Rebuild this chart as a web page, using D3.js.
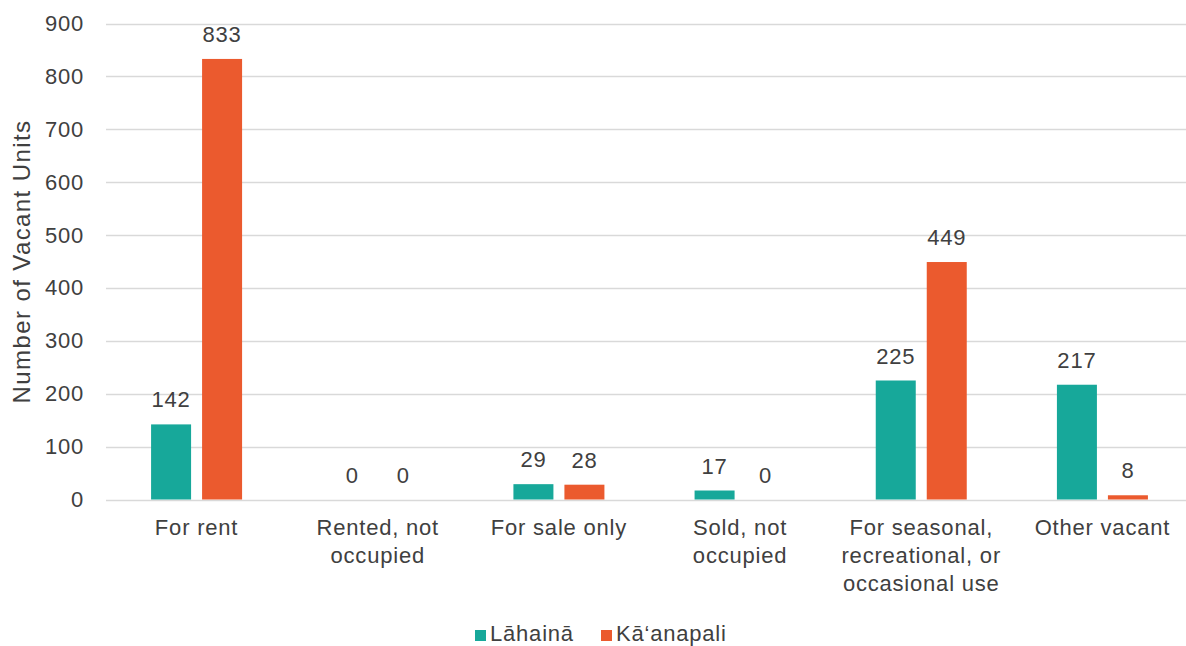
<!DOCTYPE html>
<html>
<head>
<meta charset="utf-8">
<script src="https://cdn.jsdelivr.net/npm/d3@7"></script>
<style>
  html, body { margin: 0; padding: 0; background: #fff; }
  svg { display: block; font-family: "Liberation Sans", Arial, sans-serif; }
</style>
</head>
<body>
<svg id="chart" width="1186" height="646"></svg>
<script>
// Vacancy status categories (line breaks as drawn on the axis)
const categories = [
  ["For rent"],
  ["Rented, not", "occupied"],
  ["For sale only"],
  ["Sold, not", "occupied"],
  ["For seasonal,", "recreational, or", "occasional use"],
  ["Other vacant"]
];
const seriesNames = ["Lāhainā", "Kā‘anapali"];
const lahainaValues = [142, 0, 29, 17, 225, 217];
const kaanapaliValues = [833, 0, 28, 0, 449, 8];
const yTicks = [0, 100, 200, 300, 400, 500, 600, 700, 800, 900];
const colors = ["#17a89a", "#eb5a2e"];

const svg = d3.select("#chart");
const margin = { left: 106, top: 23.5, bottom: 499.5 };
const plotRight = 1193;

const catKeys = categories.map((c, i) => i);
const x = d3.scaleBand().domain(catKeys).range([margin.left, plotRight]).paddingInner(0).paddingOuter(0);
const y = d3.scaleLinear().domain([0, 900]).range([margin.bottom, margin.top]);

const barW = 40, barGap = 11;
const textColor = "#404040";
const fs = 22, ls = 0.8;

// Gridlines
svg.append("g")
  .selectAll("line")
  .data(yTicks)
  .join("line")
  .attr("x1", margin.left)
  .attr("x2", plotRight)
  .attr("y1", d => Math.round(y(d)) + 0.5)
  .attr("y2", d => Math.round(y(d)) + 0.5)
  .attr("stroke", "#d9d9d9")
  .attr("stroke-width", 1.5);

// Y axis tick labels
const yAxis = d3.axisLeft(y).tickValues(yTicks).tickSize(0).tickPadding(22);
const yg = svg.append("g").attr("transform", `translate(${margin.left},0)`).call(yAxis);
yg.select(".domain").remove();
yg.selectAll("text")
  .attr("font-size", fs)
  .attr("letter-spacing", ls)
  .attr("font-family", "Liberation Sans, Arial, sans-serif")
  .attr("fill", textColor);

// Y axis title
svg.append("text")
  .attr("transform", `translate(30,${(margin.top + margin.bottom) / 2}) rotate(-90)`)
  .attr("text-anchor", "middle")
  .attr("font-size", 24)
  .attr("letter-spacing", 1.4)
  .attr("fill", textColor)
  .text("Number of Vacant Units");

// Bars with value labels
const series = [lahainaValues, kaanapaliValues];
series.forEach((vals, s) => {
  const g = svg.append("g");
  const offset = s === 0 ? -(barW + barGap / 2) : barGap / 2;
  g.selectAll("rect")
    .data(vals)
    .join("rect")
    .attr("x", (d, i) => x(i) + x.bandwidth() / 2 + offset)
    .attr("y", d => y(d))
    .attr("width", barW)
    .attr("height", d => y(0) - y(d))
    .attr("fill", colors[s]);
  g.selectAll("text")
    .data(vals)
    .join("text")
    .attr("x", (d, i) => x(i) + x.bandwidth() / 2 + offset + barW / 2)
    .attr("y", d => y(d) - 17)
    .attr("text-anchor", "middle")
    .attr("font-size", fs)
    .attr("letter-spacing", ls)
    .attr("fill", textColor)
    .text(d => d);
});

// Category labels
const catG = svg.append("g");
categories.forEach((lines, i) => {
  const t = catG.append("text")
    .attr("x", x(i) + x.bandwidth() / 2)
    .attr("y", 535)
    .attr("text-anchor", "middle")
    .attr("font-size", fs)
    .attr("letter-spacing", ls)
    .attr("fill", textColor);
  lines.forEach((ln, j) => {
    t.append("tspan")
      .attr("x", x(i) + x.bandwidth() / 2)
      .attr("dy", j === 0 ? 0 : 28)
      .text(ln);
  });
});

// Legend
const legend = svg.append("g");
const legendItems = [
  { name: seriesNames[0], color: colors[0], x: 475 },
  { name: seriesNames[1], color: colors[1], x: 601 }
];
legendItems.forEach(it => {
  legend.append("rect")
    .attr("x", it.x).attr("y", 630)
    .attr("width", 11).attr("height", 11)
    .attr("fill", it.color);
  legend.append("text")
    .attr("x", it.x + 15).attr("y", 641)
    .attr("font-size", fs)
    .attr("letter-spacing", ls)
    .attr("fill", textColor)
    .text(it.name);
});
</script>
</body>
</html>
